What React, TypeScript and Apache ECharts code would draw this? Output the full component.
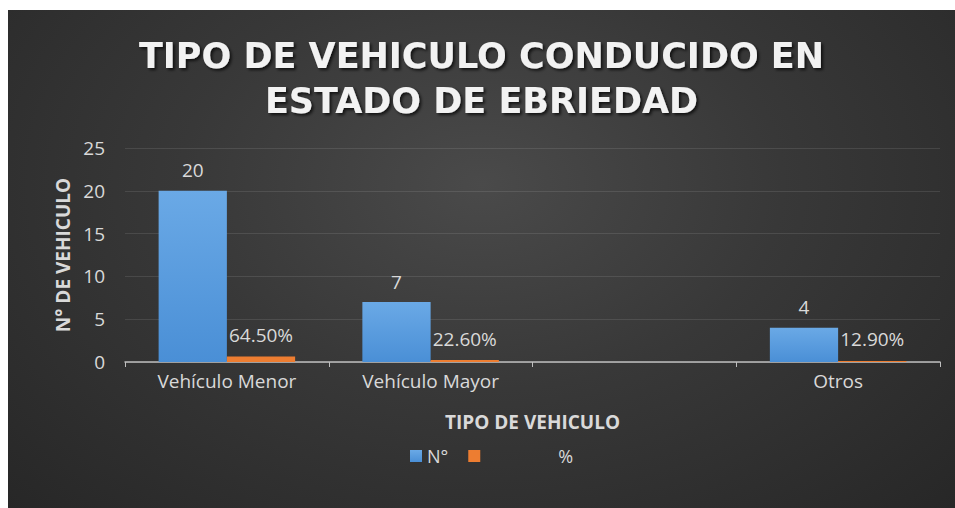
import React, { useEffect, useRef } from "react";
import * as echarts from "echarts";

const categories = ["Vehículo Menor", "Vehículo Mayor", "", "Otros"];
const countValues: (number | null)[] = [20, 7, null, 4];
const pctValues: (number | null)[] = [0.645, 0.226, null, 0.129];
const yTicks = { min: 0, max: 25, interval: 5 };
const titleText = "TIPO DE VEHICULO CONDUCIDO EN\nESTADO DE EBRIEDAD";

export default function App() {
  const ref = useRef<HTMLDivElement>(null);
  useEffect(() => {
    document.body.style.margin = "0";
    const chart = echarts.init(ref.current!, null, { renderer: "svg" });
    const labelColor = "#d9d9d9";
    const font = "Open Sans";
    chart.setOption({
      animation: false,
      title: {
        text: titleText,
        left: "center",
        top: 18,
        textStyle: {
          color: "#f2f2f2",
          fontFamily: "DejaVu Sans",
          fontWeight: "bold",
          fontSize: 35,
          lineHeight: 45,
          textShadowColor: "rgba(0,0,0,0.7)",
          textShadowBlur: 3,
          textShadowOffsetX: 2,
          textShadowOffsetY: 2,
        },
      },
      legend: {
        left: 397,
        top: 432,
        itemWidth: 12,
        itemHeight: 12,
        itemGap: 20,
        icon: "rect",
        textStyle: {
          color: labelColor,
          fontFamily: font,
          fontSize: 18,
          rich: {
            pct: { width: 88, align: "right", color: labelColor, fontSize: 18, fontFamily: font },
          },
        },
        formatter: (name: string) => (name === "%" ? "{pct|%}" : name),
        data: ["N°", "%"],
      },
      grid: { left: 117, right: 15, top: 138, bottom: 146 },
      xAxis: {
        type: "category",
        data: categories,
        name: "TIPO DE VEHICULO",
        nameLocation: "middle",
        nameGap: 50,
        nameTextStyle: { color: labelColor, fontFamily: font, fontWeight: "bold", fontSize: 19 },
        axisLine: { lineStyle: { color: "#bfbfbf", width: 1.5 } },
        axisTick: { show: true, length: 5, lineStyle: { color: "#bfbfbf" } },
        axisLabel: { color: labelColor, fontFamily: font, fontSize: 19, margin: 9 },
      },
      yAxis: {
        type: "value",
        min: yTicks.min,
        max: yTicks.max,
        interval: yTicks.interval,
        name: "N° DE VEHICULO",
        nameLocation: "middle",
        nameGap: 52,
        nameTextStyle: { color: labelColor, fontFamily: font, fontWeight: "bold", fontSize: 19 },
        axisLine: { show: false },
        axisTick: { show: false },
        axisLabel: { color: labelColor, fontFamily: font, fontSize: 19, margin: 20 },
        splitLine: { lineStyle: { color: "rgba(255,255,255,0.1)", width: 1 } },
      },
      series: [
        {
          name: "N°",
          type: "bar",
          data: countValues,
          barGap: "0%",
          barCategoryGap: "33%",
          itemStyle: {
            color: new echarts.graphic.LinearGradient(0, 0, 0, 1, [
              { offset: 0, color: "#6aa9e6" },
              { offset: 1, color: "#4a8fd6" },
            ]),
          },
          label: {
            show: true,
            position: "top",
            distance: 11,
            color: labelColor,
            fontFamily: font,
            fontSize: 19,
          },
        },
        {
          name: "%",
          type: "bar",
          data: pctValues,
          itemStyle: { color: "#ed7d31" },
          label: {
            show: true,
            position: "top",
            distance: 12,
            color: labelColor,
            fontFamily: font,
            fontSize: 19,
            formatter: (p: any) => (p.value * 100).toFixed(2) + "%",
          },
        },
      ],
    });
    return () => chart.dispose();
  }, []);
  return (
    <div
      ref={ref}
      style={{
        marginLeft: 8,
        marginTop: 10,
        width: 947,
        height: 498,
        background: "radial-gradient(ellipse at 50% 35%, #4a4a4a 0%, #383838 45%, #272727 100%)",
      }}
    />
  );
}
